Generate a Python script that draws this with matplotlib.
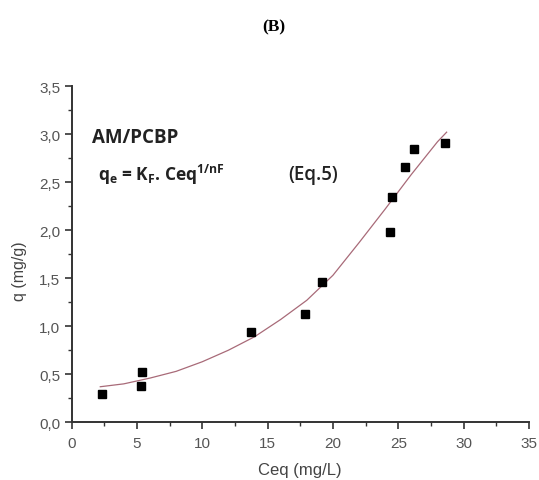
import matplotlib.pyplot as plt
from matplotlib.ticker import MultipleLocator, FuncFormatter

# measured points (Ceq, q)
ceq = [2.3, 5.3, 5.4, 13.7, 17.9, 19.2, 24.4, 24.5, 25.5, 26.2, 28.6]
q = [0.29, 0.38, 0.52, 0.94, 1.13, 1.46, 1.98, 2.34, 2.66, 2.85, 2.91]

# Freundlich fit curve
fit_x = [2.2, 4, 6, 8, 10, 12, 14, 16, 18, 20, 22, 24, 26, 28, 28.7]
fit_y = [0.37, 0.40, 0.46, 0.53, 0.63, 0.75, 0.89, 1.07, 1.27, 1.53, 1.87, 2.22, 2.58, 2.92, 3.02]

plt.rcParams['font.family'] = ['Liberation Sans', 'DejaVu Sans']

fig = plt.figure(figsize=(5.39, 4.81), dpi=100)
ax = fig.add_axes([0.1327, 0.12, 0.8487, 0.699])

ax.plot(fit_x, fit_y, color='#a86a78', lw=0.9, zorder=2)
ax.plot(ceq, q, ls='', marker='s', ms=5.3, color='black', zorder=3)

ax.set_xlim(0, 35)
ax.set_ylim(0, 3.5)
ax.spines['right'].set_visible(False)
ax.spines['top'].set_visible(False)
for s in ('left', 'bottom'):
    ax.spines[s].set_linewidth(1.4)
    ax.spines[s].set_color('#333333')

ax.xaxis.set_major_locator(MultipleLocator(5))
ax.xaxis.set_minor_locator(MultipleLocator(2.5))
ax.yaxis.set_major_locator(MultipleLocator(0.5))
ax.yaxis.set_minor_locator(MultipleLocator(0.25))
ax.yaxis.set_major_formatter(FuncFormatter(lambda v, p: ('%.1f' % v).replace('.', ',')))
ax.tick_params(which='major', length=5, width=1.2, color='#333333',
               labelsize=11, labelcolor='#555555')
ax.tick_params(axis='x', which='major', pad=5)
ax.tick_params(axis='y', which='major', pad=3)
ax.tick_params(which='minor', length=3, width=1.0, color='#333333')

ax.set_xlabel('Ceq (mg/L)', fontsize=12, color='#444444')
ax.xaxis.label.set_va('center')
ax.xaxis.set_label_coords(0.5, -0.14)
ax.set_ylabel('q (mg/g)', fontsize=11.5, color='#444444')
ax.yaxis.label.set_va('center')
ax.yaxis.set_label_coords(-0.113, 0.453)

fig.text(0.508, 0.944, '(B)', family='Liberation Serif', fontweight='bold',
         fontsize=12.5, ha='center', va='center')

ax.text(1.6, 2.97, 'AM/PCBP', family='Open Sans', fontweight='bold', fontsize=13.5,
        color='#222222', va='center')
ax.text(2.0, 2.58, r'q$_{\mathregular{e}}$ = K$_{\mathregular{F}}$. Ceq$^{\mathregular{1/nF}}$',
        family='Open Sans', fontweight='bold', fontsize=12.5, color='#222222', va='center')
ax.text(16.6, 2.58, '(Eq.5)', family='Open Sans', fontweight='semibold', fontsize=13.5,
        color='#222222', va='center')

fig.savefig('out.png', dpi=100)
